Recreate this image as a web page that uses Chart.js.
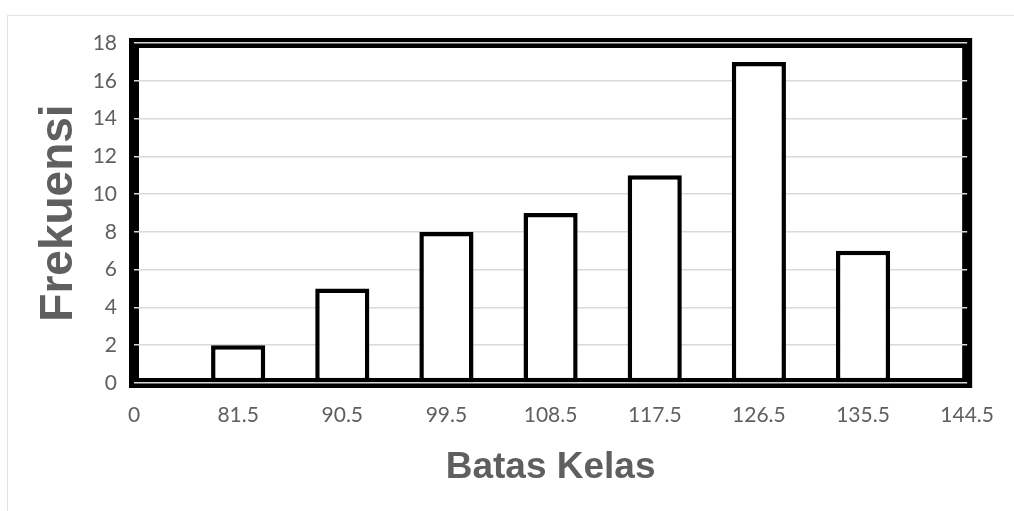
<!DOCTYPE html>
<html>
<head>
<meta charset="utf-8">
<script src="https://cdn.jsdelivr.net/npm/chart.js@4.4.1/dist/chart.umd.min.js"></script>
<style>
  html, body { margin: 0; padding: 0; background: #ffffff; overflow: hidden; }
  #wrap { position: relative; width: 1014px; height: 511px; }
  #outline { position: absolute; left: 7px; top: 15px; width: 1030px; height: 520px;
             border: 1px solid #e3e3e3; box-sizing: border-box; }
  #chart { position: absolute; left: 0; top: 0; }
</style>
</head>
<body>
<div id="wrap">
  <div id="outline"></div>
  <canvas id="chart" width="1014" height="511"></canvas>
</div>
<script>
// Class boundaries (x axis) and frequency per class
const batasKelas = ['0', '81.5', '90.5', '99.5', '108.5', '117.5', '126.5', '135.5', '144.5'];
const frekuensi = [0, 2, 5, 8, 9, 11, 17, 7, 0];
const yTicks = [0, 2, 4, 6, 8, 10, 12, 14, 16, 18];

const grey = '#5f5f5f';

// Thick black frame around the plotting area, painted before grid and bars
const framePlugin = {
  id: 'frame',
  beforeDraw(chart) {
    const { ctx, chartArea: a } = chart;
    ctx.save();
    ctx.strokeStyle = '#000000';
    ctx.lineWidth = 10;
    ctx.strokeRect(a.left, a.top, a.right - a.left, a.bottom - a.top);
    ctx.restore();
  }
};

new Chart(document.getElementById('chart'), {
  type: 'bar',
  data: {
    labels: batasKelas,
    datasets: [{
      label: 'Frekuensi',
      data: frekuensi,
      backgroundColor: '#ffffff',
      borderColor: '#000000',
      borderWidth: 4.5,
      borderSkipped: false,
      barPercentage: 1,
      categoryPercentage: 0.52
    }]
  },
  options: {
    responsive: false,
    animation: false,
    events: [],
    layout: { padding: { top: 43, right: 41, left: 0, bottom: 0 } },
    plugins: {
      legend: { display: false },
      tooltip: { enabled: false }
    },
    scales: {
      x: {
        type: 'category',
        offset: false,
        grid: { display: false, offset: false, drawTicks: false },
        border: { display: false },
        ticks: {
          color: grey,
          font: { family: 'Lato', size: 21 },
          padding: 20,
          maxRotation: 0,
          autoSkip: false
        },
        title: {
          display: true,
          text: 'Batas Kelas',
          color: grey,
          font: { family: 'Liberation Sans', size: 37, weight: 'bold' },
          padding: { top: 0, bottom: 21 }
        },
        afterFit(scale) { scale.height = 128; }
      },
      y: {
        min: 0,
        max: 18,
        afterBuildTicks(scale) { scale.ticks = yTicks.map(v => ({ value: v })); },
        grid: { color: '#d9d9d9', lineWidth: 1.5, drawTicks: false },
        border: { display: false },
        ticks: {
          color: grey,
          font: { family: 'Lato', size: 21 },
          padding: 17
        },
        title: {
          display: true,
          text: 'Frekuensi',
          color: grey,
          font: { family: 'Liberation Sans', size: 46, weight: 'bold' },
          padding: { top: 32, bottom: 0 }
        },
        afterFit(scale) { scale.width = 134; }
      }
    }
  },
  plugins: [framePlugin]
});
</script>
</body>
</html>
